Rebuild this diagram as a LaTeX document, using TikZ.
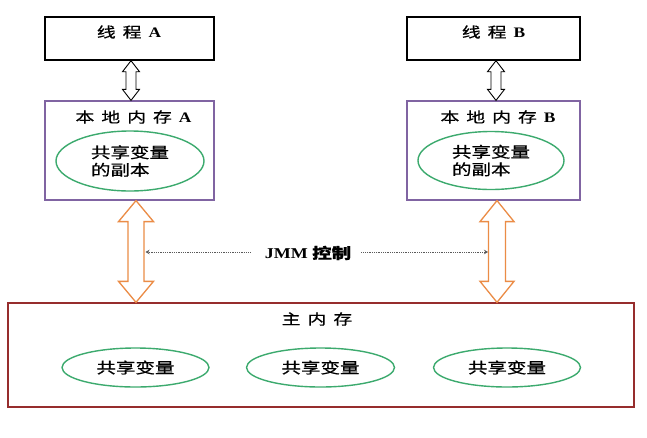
\documentclass[tikz,border=0pt]{standalone}
\usepackage{fontspec}
\setmainfont{Liberation Serif}[FakeStretch=1.2]
\newfontfamily\cjk{Noto Sans CJK SC}[FakeStretch=1.3,FakeBold=0.7]
\usetikzlibrary{calc,arrows.meta,shapes.geometric}
\definecolor{purp}{RGB}{128,100,162}
\definecolor{grn}{RGB}{60,170,110}
\definecolor{redb}{RGB}{150,45,45}
\definecolor{orng}{RGB}{235,140,70}
\definecolor{dotc}{RGB}{90,90,90}
\newcommand\kgap{\hspace{7pt}}
% vertical double arrow: #1 top, #2 bottom, #3 head half width, #4 shaft half width, #5 head length, #6 style
\newcommand\vdarrow[6]{%
  \draw[#6] let \p1=(#1), \p2=(#2) in
    (\x1,\y1) -- (\x1+#3,\y1-#5) -- (\x1+#4,\y1-#5) -- (\x1+#4,\y2+#5) --
    (\x1+#3,\y2+#5) -- (\x1,\y2) -- (\x1-#3,\y2+#5) -- (\x1-#4,\y2+#5) --
    (\x1-#4,\y1-#5) -- (\x1-#3,\y1-#5) -- cycle;}
\begin{document}
\begin{tikzpicture}[x=1pt,y=-1pt,
  threadbox/.style={draw=black, line width=1.4pt, minimum height=43pt, inner sep=0pt},
  localbox/.style={draw=purp, line width=1.2pt, minimum height=99pt, inner sep=0pt},
  mainbox/.style={draw=redb, line width=1.3pt, inner sep=0pt},
  var/.style={draw=grn, line width=1.4pt, ellipse, inner sep=0pt, font=\cjk\fontsize{15}{17.5}\selectfont},
  title/.style={inner sep=0pt, font=\fontsize{14.5}{16}\selectfont},
  smallarrow/.style={draw=black, fill=white, line width=0.9pt, line join=miter},
  bigarrow/.style={draw=orng, fill=white, line width=1.3pt, line join=miter},
  dotarrow/.style={draw=dotc, line width=0.9pt, dash pattern=on 1pt off 0.8pt, -{Stealth[length=4pt,width=4.5pt]}}
]
\useasboundingbox[fill=white] (0,0) rectangle (647,437);

% thread boxes
\node[threadbox, minimum width=169pt] (thA) at (129.5,38.5) {};
\node[threadbox, minimum width=173pt] (thB) at (493.5,38.5) {};
\node[title] (thAt) at (129,32) {\cjk 线\kgap 程\kgap\rmfamily\bfseries A};
\node[title] (thBt) at (493.5,32) {\cjk 线\kgap 程\kgap\rmfamily\bfseries B};

% local memory boxes
\node[localbox, minimum width=169pt] (locA) at (129.5,150.5) {};
\node[localbox, minimum width=173pt] (locB) at (493.5,150.5) {};
\node[title] (locAt) at (133.5,117) {\cjk 本\kgap 地\kgap 内\kgap 存\kgap\rmfamily\bfseries A};
\node[title] (locBt) at (498,117) {\cjk 本\kgap 地\kgap 内\kgap 存\kgap\rmfamily\bfseries B};
\node[var, minimum width=148pt, minimum height=60pt, align=left] (cpA) at (130,161) {共享变量\\的副本};
\node[var, minimum width=146pt, minimum height=58pt, align=left] (cpB) at (491,160.5) {共享变量\\的副本};

% main memory
\node[mainbox, minimum width=626pt, minimum height=104pt] (main) at (321,355) {};
\node[title] (maint) at (317,319) {\cjk 主\kgap 内\kgap 存};
\node[var, minimum width=147pt, minimum height=39pt] (v1) at (135.5,367.5) {共享变量};
\node[var, minimum width=148pt, minimum height=39pt] (v2) at (320.5,367.5) {共享变量};
\node[var, minimum width=147pt, minimum height=39pt] (v3) at (507,367.5) {共享变量};

% thread <-> local arrows
\coordinate (saT) at ([xshift=1.5pt]thA.south);
\coordinate (saB) at (saT |- locA.north);
\vdarrow{saT}{saB}{8.5pt}{5pt}{11pt}{smallarrow}
\coordinate (sbT) at ([xshift=2.5pt]thB.south);
\coordinate (sbB) at (sbT |- locB.north);
\vdarrow{sbT}{sbB}{8.5pt}{5pt}{11pt}{smallarrow}

% local <-> main arrows
\coordinate (oaT) at ([xshift=6.5pt]locA.south);
\coordinate (oaB) at (oaT |- main.north);
\vdarrow{oaT}{oaB}{17.5pt}{8pt}{21pt}{bigarrow}
\coordinate (obT) at ([xshift=3.5pt]locB.south);
\coordinate (obB) at (obT |- main.north);
\vdarrow{obT}{obB}{17pt}{8.5pt}{21pt}{bigarrow}

% JMM control
\node[inner sep=0pt, font=\fontsize{15}{17}\selectfont\bfseries] (jmm) at (308,253) {JMM {\cjk 控制}};
\coordinate (dl) at (145.5,252);
\coordinate (dr) at (488,252);
\draw[dotarrow] ([xshift=-14pt,yshift=1pt]jmm.west) -- (dl);
\draw[dotarrow] ([xshift=10pt,yshift=1pt]jmm.east) -- (dr);
\end{tikzpicture}
\end{document}
